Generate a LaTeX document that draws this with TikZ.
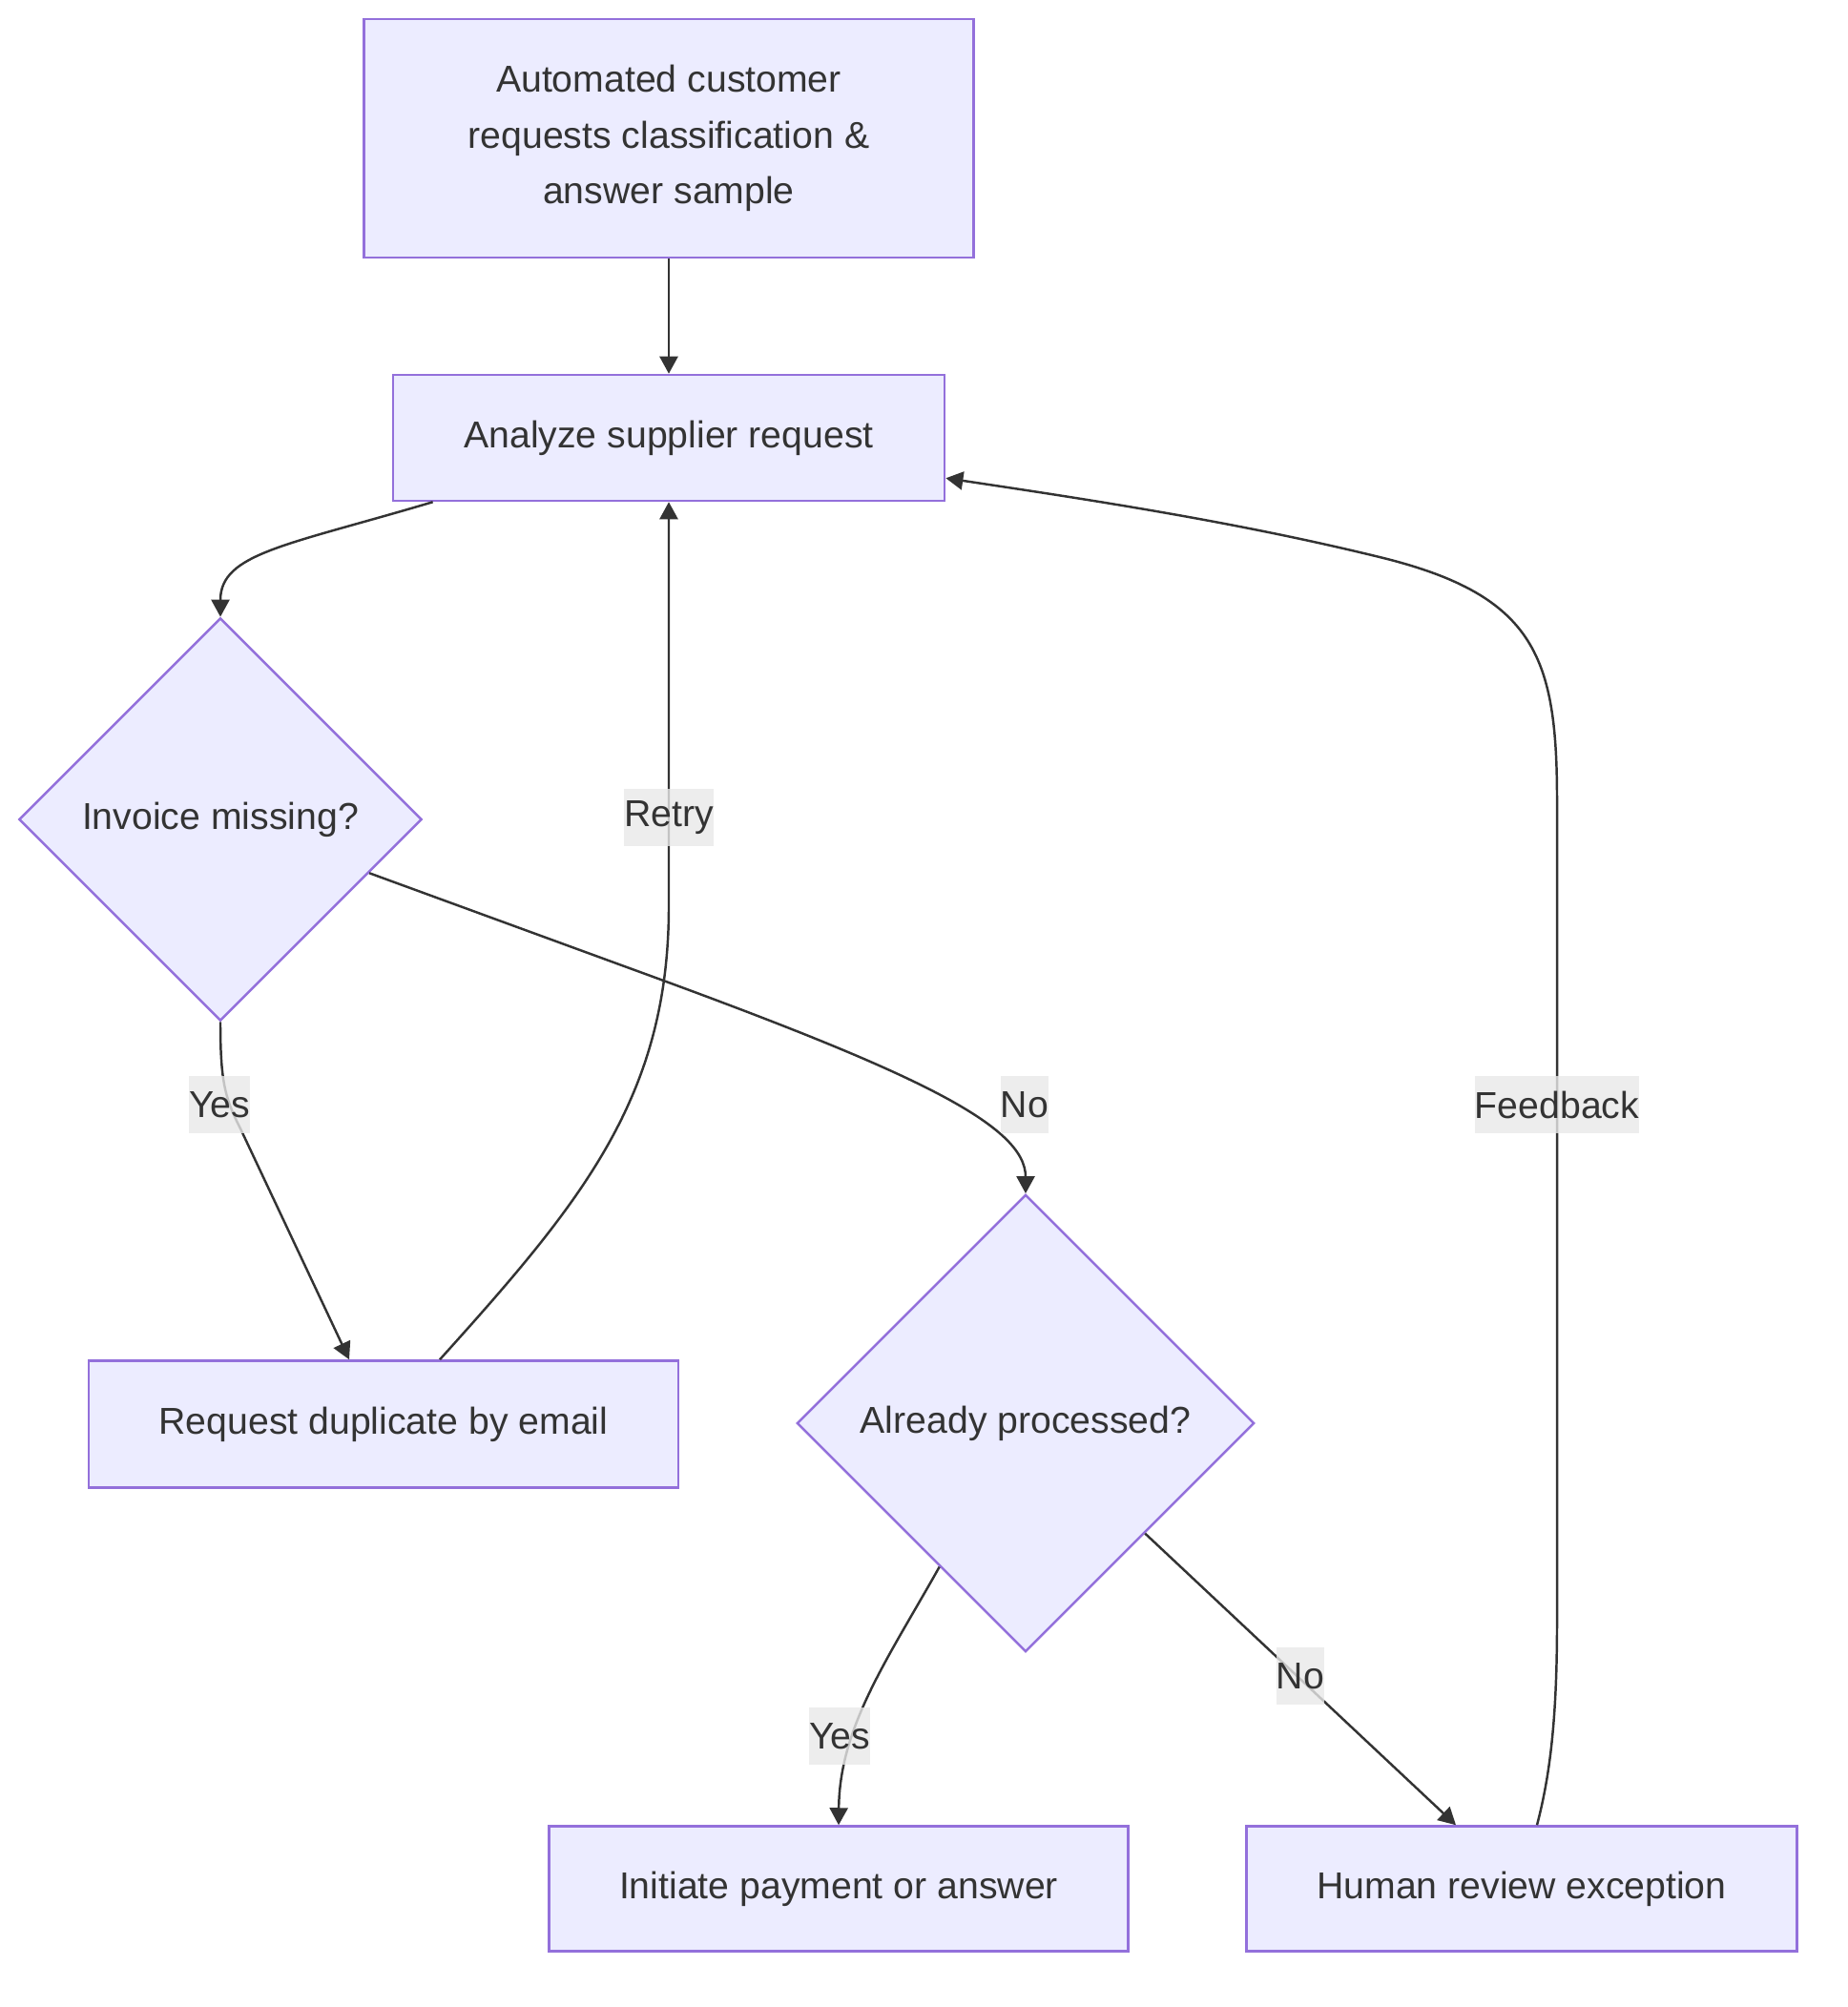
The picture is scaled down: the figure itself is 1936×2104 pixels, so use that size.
\documentclass[tikz,border=0pt]{standalone}
\usepackage{fontspec}
\setmainfont{Liberation Sans}
\usetikzlibrary{positioning, shapes.geometric, arrows.meta, calc}
\definecolor{nodefill}{HTML}{ECECFF}
\definecolor{nodeline}{HTML}{9370DB}
\definecolor{inkgrey}{HTML}{333333}
\definecolor{labelbg}{HTML}{E8E8E8}
\newcommand{\chartfont}{\fontsize{11.15}{16.6}\selectfont}

\begin{document}
\begin{tikzpicture}[x=0.01cm, y=-0.01cm,
                procbox/.style={draw=nodeline, line width=0.7pt, fill=nodefill, rectangle, inner sep=0pt, text=inkgrey, font=\chartfont},
                decision/.style={draw=nodeline, line width=0.7pt, fill=nodefill, diamond, aspect=1, inner sep=0pt, text=inkgrey, font=\chartfont},
                edge/.style={draw=inkgrey, line width=0.7pt, -{Triangle[length=1.8mm, width=1.9mm]}},
                edgelabel/.style={fill=labelbg, fill opacity=0.8, text opacity=1, inner xsep=0pt, inner ysep=0pt, minimum height=0.6cm, text=inkgrey, font=\chartfont}
            ]

            \useasboundingbox (0,0) rectangle (1936,2104);

            % Knoten
            \node[procbox, minimum width=6.39cm, minimum height=2.50cm, align=center] (auto) at (701,145) {Automated customer\\ requests classification \&\\ answer sample};
            \node[procbox, minimum width=5.78cm, minimum height=1.32cm] (analyze) at (701,459) {Analyze supplier request};
            \node[decision, minimum size=4.22cm] (invoice) at (231,859) {Invoice missing?};
            \node[procbox, minimum width=6.18cm, minimum height=1.33cm] (duplicate) at (402,1493) {Request duplicate by email};
            \node[decision, minimum size=4.79cm] (processed) at (1075,1492) {Already processed?};
            \node[procbox, minimum width=6.07cm, minimum height=1.31cm] (payment) at (879,1980) {Initiate payment or answer};
            \node[procbox, minimum width=5.77cm, minimum height=1.31cm] (review) at (1595,1980) {Human review exception};

            % Kanten zwischen Knoten
            \draw[edge] (auto.south) -- (analyze.north);
            \draw[edge] ($(analyze.south west)+(43,0)$) .. controls (300,572) and (231,580) .. (invoice.north);
            \draw[edge] (invoice.south) .. controls (231,1130) and (235,1150) .. (251,1181) -- ($(duplicate.north)+(-36,0)$);
            \draw[edge] ($(invoice.east)!0.265!(invoice.south)$) -- (690,1026) .. controls (960,1125) and (1075,1180) .. (processed.north);
            \draw[edge] ($(duplicate.north)+(59,0)$) .. controls (610,1260) and (701,1150) .. (701,950) -- (analyze.south);
            \draw[edge] ($(processed.south)!0.375!(processed.west)$) .. controls (930,1740) and (880,1810) .. (payment.north);
            \draw[edge] ($(processed.south)!0.52!(processed.east)$) -- ($(review.north)+(-69,0)$);
            \draw[edge] ($(review.north)+(16,0)$) .. controls (1625,1860) and (1632,1800) .. (1632,1700) -- (1632,840) .. controls (1632,690) and (1610,625) .. (1450,585) .. controls (1300,548) and (1150,525) .. ($(analyze.south east)+(0,-25)$);

            % Beschriftungen
            \node[edgelabel] (retrylbl) at (701,857) {Retry};
            \node[edgelabel] (yeslbl) at (230,1158) {Yes};
            \node[edgelabel] (nolbl) at (1074,1158) {No};
            \node[edgelabel] (feedbacklbl) at (1632,1158) {Feedback};
            \node[edgelabel] (yespaylbl) at (880,1820) {Yes};
            \node[edgelabel] (noreviewlbl) at (1363,1757) {No};

        \end{tikzpicture}
\end{document}
